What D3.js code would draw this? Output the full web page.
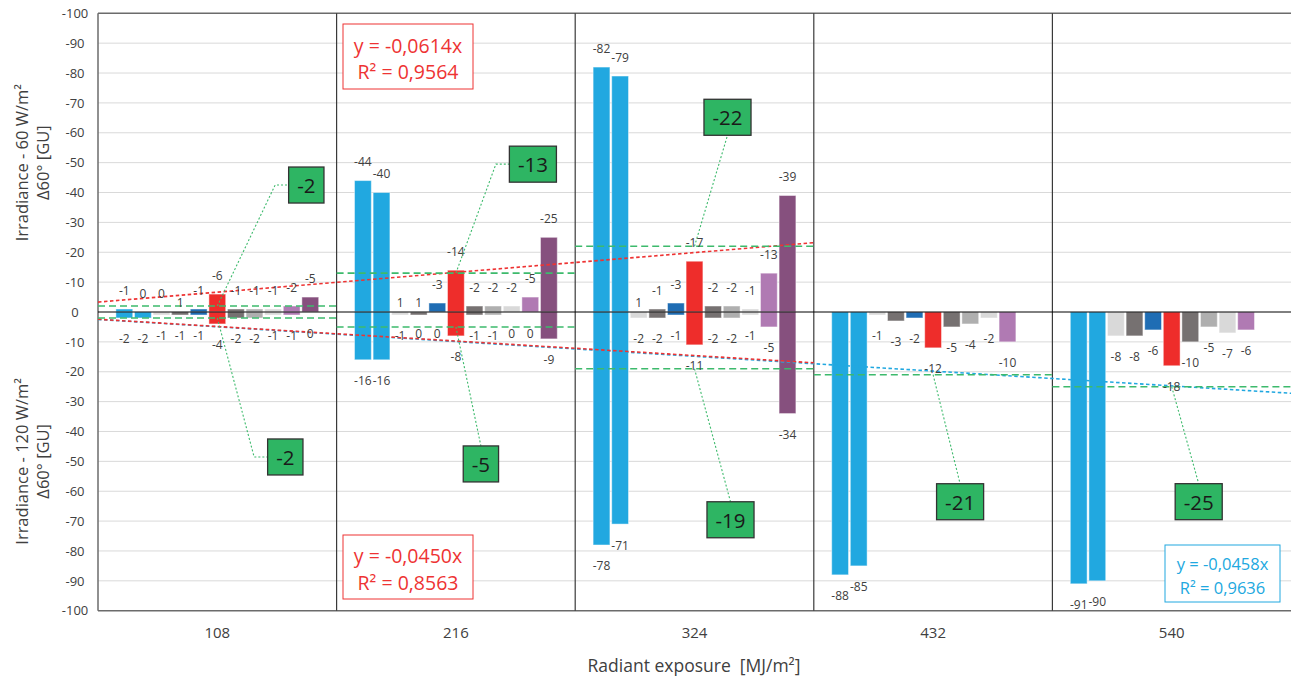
<!DOCTYPE html>
<html>
<head>
<meta charset="utf-8">
<script src="https://cdn.jsdelivr.net/npm/d3@7"></script>
<style>
body { margin: 0; background: #fff; }
text { font-family: "Open Sans", sans-serif; }
</style>
</head>
<body>
<svg id="chart" width="1291" height="677"></svg>
<script>
// radiant exposure [MJ/m2], one group of bars each
var categories = [108, 216, 324, 432, 540];

// Irradiance 60 W/m2 - delta 60deg gloss, 11 samples per exposure (no data at 432/540)
var upper60 = [
    [-1, 0, 0, 1, -1, -6, -1, -1, -1, -2, -5],
    [-44, -40, 1, 1, -3, -14, -2, -2, -2, -5, -25],
    [-82, -79, 1, -1, -3, -17, -2, -2, -1, -13, -39],
    null,
    null
];

// Irradiance 120 W/m2 - delta 60deg gloss
var lower120 = [
    [-2, -2, -1, -1, -1, -4, -2, -2, -1, -1, 0],
    [-16, -16, -1, 0, 0, -8, -1, -1, 0, 0, -9],
    [-78, -71, -2, -2, -1, -11, -2, -2, -1, -5, -34],
    [-88, -85, -1, -3, -2, -12, -5, -4, -2, -10, null],
    [-91, -90, -8, -8, -6, -18, -10, -5, -7, -6, null]
];

// group averages (green lines and boxes)
var upperMean = [-2, -13, -22, null, null];
var lowerMean = [-2, -5, -19, -21, -25];

// linear trends through origin: 60 W/m2, 120 W/m2 (first 3), 120 W/m2 (all 5)
var trendSlope = [-0.0614, -0.0450, -0.0458];
var trendR2 = [0.9564, 0.8563, 0.9636];
var trendCount = [3, 3, 5];

var yTicks = d3.range(-100, 1, 10);

// styling
var seriesColors = ["#21a8e0", "#21a8e0", "#d9d9d9", "#767171", "#1f6db4", "#ee2d2b",
                    "#767171", "#afafaf", "#d9d9d9", "#b07ab3", "#86507e"];
var trendColors = ["#ee3333", "#ee3333", "#21a8e0"];
var green = "#3dba6c";

var plotLeft = 98, plotRight = 1291, plotTop = 13.3, plotBottom = 610.7, zeroY = 312;

var svg = d3.select("#chart");

//scales
var x0 = d3.scaleBand().domain(categories).range([plotLeft, plotRight]);
var bw = x0.bandwidth();
var x1 = d3.scaleBand().domain(d3.range(11)).range([0, bw]).paddingOuter(0.915);
var xExp = d3.scaleLinear()
    .domain([categories[0], categories[categories.length - 1]])
    .range([x0(categories[0]) + bw / 2, x0(categories[categories.length - 1]) + bw / 2]);
var yU = d3.scaleLinear().domain([-100, 0]).range([plotTop, zeroY]);
var yL = d3.scaleLinear().domain([0, -100]).range([zeroY, plotBottom]);

//gridlines
var grid = svg.append("g");
yTicks.filter(function(t){ return t > -100 && t < 0; }).forEach(function(t){
    [yU(t), yL(t)].forEach(function(y){
        grid.append("line").attr("x1", plotLeft).attr("x2", plotRight)
            .attr("y1", y).attr("y2", y)
            .attr("stroke", "#d9d9d9").attr("stroke-width", 1);
    });
});

//plot frame
[plotTop, plotBottom].forEach(function(y){
    svg.append("line").attr("x1", plotLeft).attr("x2", plotRight).attr("y1", y).attr("y2", y)
        .attr("stroke", "#6b6b6b").attr("stroke-width", 1.5);
});
svg.append("line").attr("x1", plotLeft).attr("x2", plotLeft).attr("y1", plotTop).attr("y2", plotBottom)
    .attr("stroke", "#6b6b6b").attr("stroke-width", 1.5);

//group dividers
categories.slice(1).forEach(function(c){
    svg.append("line").attr("x1", x0(c)).attr("x2", x0(c)).attr("y1", plotTop).attr("y2", plotBottom)
        .attr("stroke", "#3a3a3a").attr("stroke-width", 1.2);
});

//bars
var bars = svg.append("g");
function drawBars(rows, scale){
    rows.forEach(function(row, gi){
        if (!row) return;
        row.forEach(function(v, si){
            if (v === null) return;
            var y1 = scale(v), y2 = scale(0);
            bars.append("rect")
                .attr("x", x0(categories[gi]) + x1(si) + 0.9)
                .attr("width", x1.bandwidth() - 1.8)
                .attr("y", Math.min(y1, y2))
                .attr("height", Math.max(Math.abs(y2 - y1), 0.01))
                .attr("fill", seriesColors[si])
                .attr("stroke", "rgba(255,255,255,0.45)")
                .attr("stroke-width", 1);
        });
    });
}
drawBars(upper60, yU);
drawBars(lower120, yL);

//zero line
svg.append("line").attr("x1", plotLeft).attr("x2", plotRight).attr("y1", zeroY).attr("y2", zeroY)
    .attr("stroke", "#000").attr("stroke-width", 1);

//trend lines
var step = categories[1] - categories[0];
var trendScales = [yU, yL, yL];
// draw blue one first so the red one lies above it
[2, 0, 1].forEach(function(i){
    var xs = [categories[0] - step / 2, categories[trendCount[i] - 1] + step / 2];
    var line = d3.line()
        .x(function(d){ return xExp(d); })
        .y(function(d){ return trendScales[i](trendSlope[i] * d); });
    svg.append("path").datum(xs)
        .attr("d", line)
        .attr("fill", "none")
        .attr("stroke", trendColors[i])
        .attr("stroke-width", 1.6)
        .attr("stroke-dasharray", "3.5,2.5");
});

//average lines
function drawMeans(means, scale){
    means.forEach(function(m, gi){
        if (m === null) return;
        svg.append("line")
            .attr("x1", x0(categories[gi])).attr("x2", x0(categories[gi]) + bw)
            .attr("y1", scale(m)).attr("y2", scale(m))
            .attr("stroke", green).attr("stroke-width", 1.6)
            .attr("stroke-dasharray", "7,4");
    });
}
drawMeans(upperMean, yU);
drawMeans(lowerMean, yL);

//data labels
var labels = svg.append("g").attr("font-size", 12).attr("fill", "#404040")
    .attr("text-anchor", "middle").attr("dominant-baseline", "central");
upper60.forEach(function(row, gi){
    if (!row) return;
    row.forEach(function(v, si){
        var cy = v > 0 ? yU(0) - 10 : yU(v) - 19;
        labels.append("text")
            .attr("x", x0(categories[gi]) + x1(si) + x1.bandwidth() / 2)
            .attr("y", cy).text(v);
    });
});
lower120.forEach(function(row, gi){
    row.forEach(function(v, si){
        if (v === null) return;
        labels.append("text")
            .attr("x", x0(categories[gi]) + x1(si) + x1.bandwidth() / 2)
            .attr("y", yL(v) + 21).text(v);
    });
});

//callout boxes for the averages
var calloutLayout = [
    {half: "upper", group: 0, dx: 89, dy: -121, elbow: true},
    {half: "lower", group: 0, dx: 68, dy: 139, elbow: true},
    {half: "upper", group: 1, dx: 77, dy: -109, elbow: true},
    {half: "lower", group: 1, dx: 25, dy: 137, elbow: false},
    {half: "upper", group: 2, dx: 33, dy: -129, elbow: false},
    {half: "lower", group: 2, dx: 36, dy: 151, elbow: false},
    {half: "lower", group: 3, dx: 27, dy: 127, elbow: false},
    {half: "lower", group: 4, dx: 27, dy: 115, elbow: false}
];
calloutLayout.forEach(function(c){
    var v = c.half === "upper" ? upperMean[c.group] : lowerMean[c.group];
    var scale = c.half === "upper" ? yU : yL;
    var ax = x0(categories[c.group]) + bw / 2, ay = scale(v);
    var cx = ax + c.dx, cy = ay + c.dy;

    var g = svg.append("g");
    var txt = g.append("text").attr("x", cx).attr("y", cy)
        .attr("text-anchor", "middle").attr("dominant-baseline", "central")
        .attr("font-size", 20.5).attr("fill", "#1a1a1a").text(v);
    var w = txt.node().getComputedTextLength() + 17, h = 36;
    var bx = cx - w / 2, by = cy - h / 2;

    var pts;
    if (c.elbow) pts = [[ax, ay], [bx - 13.5, cy], [bx, cy]];
    else pts = [[ax, ay], [cx, c.dy < 0 ? by + h : by]];
    svg.append("path").attr("d", d3.line()(pts))
        .attr("fill", "none").attr("stroke", green).attr("stroke-width", 1.1)
        .attr("stroke-dasharray", "2,2");

    g.insert("rect", "text").attr("x", bx).attr("y", by).attr("width", w).attr("height", h)
        .attr("fill", "#2eb563").attr("stroke", "#333").attr("stroke-width", 1.3);
    g.raise();
});

//trend equation boxes
var eqLayout = [
    {x: 343, y: 24, w: 130, h: 65, size: 19.5, l1: 21, l2: 47.5},
    {x: 343, y: 535, w: 130, h: 64, size: 19.5, l1: 20.5, l2: 47},
    {x: 1165, y: 545, w: 115, h: 57, size: 16.5, l1: 18.5, l2: 42.5}
];
var fmt = function(n){ return d3.format(".4f")(n).replace("\u2212", "-").replace(".", ","); };
eqLayout.forEach(function(e, i){
    svg.append("rect").attr("x", e.x).attr("y", e.y).attr("width", e.w).attr("height", e.h)
        .attr("fill", "#fff").attr("stroke", trendColors[i]).attr("stroke-width", 1);
    svg.append("text").attr("x", e.x + e.w / 2).attr("y", e.y + e.l1)
        .attr("text-anchor", "middle").attr("dominant-baseline", "central")
        .attr("font-size", e.size).attr("fill", trendColors[i])
        .text("y = " + fmt(trendSlope[i]) + "x");
    svg.append("text").attr("x", e.x + e.w / 2).attr("y", e.y + e.l2)
        .attr("text-anchor", "middle").attr("dominant-baseline", "central")
        .attr("font-size", e.size).attr("fill", trendColors[i])
        .text("R² = " + fmt(trendR2[i]));
});

//axes
var plain = function(d){ return String(d); };
var yAxisU = d3.axisLeft(yU).tickValues(yTicks).tickSize(0).tickPadding(0).tickFormat(plain);
var yAxisL = d3.axisLeft(yL).tickValues(yTicks.filter(function(t){ return t < 0; }))
    .tickSize(0).tickPadding(0).tickFormat(plain);
[yAxisU, yAxisL].forEach(function(ax){
    var g = svg.append("g").attr("transform", "translate(" + plotLeft + ",0)").call(ax);
    g.select(".domain").remove();
    g.selectAll("text").attr("x", -23).attr("text-anchor", "middle")
        .attr("font-size", 13).attr("fill", "#404040")
        .attr("font-family", "'Open Sans', sans-serif");
});

var xAxis = d3.axisBottom(x0).tickSize(0).tickPadding(16.5);
var gx = svg.append("g").attr("transform", "translate(0," + plotBottom + ")").call(xAxis);
gx.select(".domain").remove();
gx.selectAll("text").attr("font-size", 15).attr("fill", "#404040")
    .attr("font-family", "'Open Sans', sans-serif");

svg.append("text").attr("x", 694).attr("y", 665)
    .attr("text-anchor", "middle").attr("dominant-baseline", "central")
    .attr("font-size", 17.5).attr("fill", "#404040")
    .style("white-space", "pre")
    .text("Radiant exposure  [MJ/m²]");

var yTitles = [
    {lines: ["Irradiance - 60 W/m²", "Δ60° [GU]"], cy: (plotTop + zeroY) / 2},
    {lines: ["Irradiance - 120 W/m²", "Δ60° [GU]"], cy: (zeroY + plotBottom) / 2}
];
yTitles.forEach(function(t){
    t.lines.forEach(function(s, j){
        svg.append("text")
            .attr("transform", "translate(" + (21 + j * 21) + "," + t.cy + ") rotate(-90)")
            .attr("text-anchor", "middle").attr("dominant-baseline", "central")
            .attr("font-size", 16.5).attr("fill", "#404040")
            .text(s);
    });
});
</script>
</body>
</html>
